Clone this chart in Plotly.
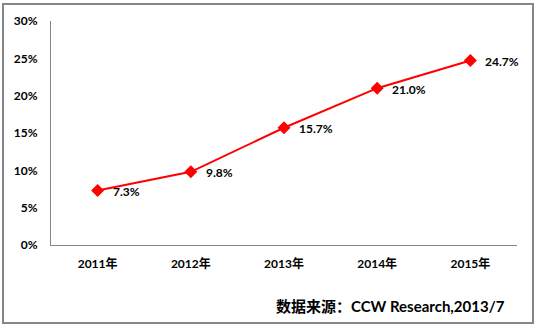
import plotly.graph_objects as go

years = ["2011年", "2012年", "2013年", "2014年", "2015年"]
growth = [7.3, 9.8, 15.7, 21.0, 24.7]
y_ticks = [0, 5, 10, 15, 20, 25, 30]
source_note = "数据来源：CCW Research,2013/7"

FONT = "Lato, 'Noto Sans CJK SC', sans-serif"

fig = go.Figure()
fig.add_trace(go.Scatter(
    x=years,
    y=growth,
    mode="lines+markers",
    line=dict(color="#ff0000", width=2),
    marker=dict(symbol="diamond", size=10, color="#ff0000"),
    cliponaxis=False,
    hoverinfo="skip",
))

# value labels sit to the right of each point
value_labels = [
    dict(
        x=yr, y=v, xref="x", yref="y",
        text=f"{v:.1f}%",
        xanchor="left", yanchor="middle",
        xshift=13, yshift=-1,
        showarrow=False,
        font=dict(family=FONT, size=12, color="#000000", weight="bold"),
    )
    for yr, v in zip(years, growth)
]

fig.update_layout(
    width=536,
    height=330,
    margin=dict(l=51, r=19, t=21, b=85),
    paper_bgcolor="white",
    plot_bgcolor="white",
    showlegend=False,
    xaxis=dict(
        type="category",
        range=[-0.5, len(years) - 0.5],
        showgrid=False,
        showline=True,
        linecolor="#868686",
        linewidth=1,
        ticks="",
        tickfont=dict(family=FONT, size=12, color="#000000", weight="bold"),
        ticklabelstandoff=8,
        fixedrange=True,
    ),
    yaxis=dict(
        range=[0, 30],
        tickvals=y_ticks,
        ticktext=[f"{v}%" for v in y_ticks],
        showgrid=False,
        zeroline=False,
        showline=True,
        linecolor="#868686",
        linewidth=1,
        ticks="",
        tickfont=dict(family=FONT, size=12, color="#000000", weight="bold"),
        ticklabelstandoff=10,
        fixedrange=True,
    ),
    annotations=value_labels + [dict(
        text=source_note,
        xref="paper", yref="paper",
        x=(507 - 51) / 466, y=(245 - 306) / 224,
        xanchor="right", yanchor="middle",
        showarrow=False,
        font=dict(family=FONT, size=15, color="#000000", weight="bold"),
    )],
    shapes=[dict(
        type="rect",
        xref="paper", yref="paper",
        x0=(3 - 51) / 466, x1=(533 - 51) / 466,
        y0=(245 - 323) / 224, y1=(245 - 4) / 224,
        line=dict(color="#868686", width=2),
        fillcolor="rgba(0,0,0,0)",
        layer="below",
    )],
)

fig.write_html("out.html")
